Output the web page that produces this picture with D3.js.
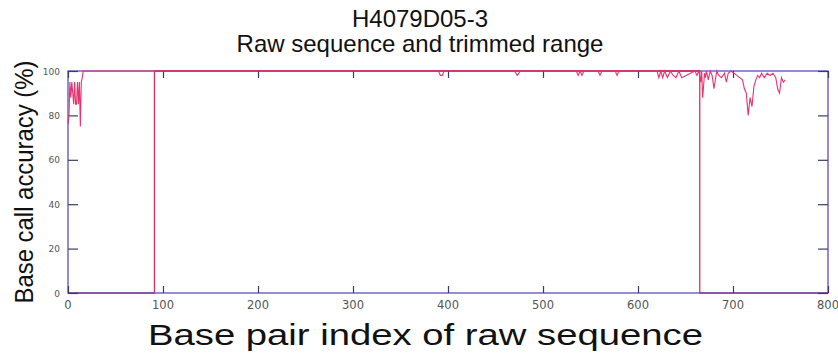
<!DOCTYPE html>
<html><head><meta charset="utf-8">
<script src="https://cdn.jsdelivr.net/npm/d3@7"></script>
<style>body{margin:0;background:#fff}svg{display:block}</style>
</head><body>
<script>
const titleLines = ["H4079D05-3", "Raw sequence and trimmed range"];
const xLabel = "Base pair index of raw sequence";
const yLabel = "Base call accuracy (%)";
const xTicks = [0,100,200,300,400,500,600,700,800];
const yTicks = [0,20,40,60,80,100];
// quality trace: base pair index, accuracy %
const qualBp  = [0,1,2,3,4,5,6,7,8,9,10,11,12,13,14,15,16,17,390,392,394,396,470,473,476,535,537,539,541,543,558,560,562,576,578,580,620,622,624,626,628,631,634,637,640,643,646,660,662,664,666,667,668,669,670,671,672,674,676,678,680,681,683,685,688,691,693,695,698,701,704,707,710,712,714,716,718,720,722,724,726,728,730,733,736,739,742,745,747,749,751,753,755];
const qualVal = [76,80,95,88,95,90,85,95,85,85,95,85,95,75,95,97,100,100,100,98,98,100,100,98,100,100,98,100,98,100,100,98,100,100,98,100,100,97,100,97,100,97,100,98,97,100,97,100,98,100,95,100,88,93,99,97,100,96,100,98,92,95,100,98,97,99,95,99,100,99,98,97,96,92,90,80,88,84,93,96,98,97,99,97,99,98,99,97,92,90,97,95,96];
// trimmed range (step): base pair index, level %
const trimBp  = [0,91,91,665,665,800];
const trimVal = [0,0,100,100,0,0];

const W = 838, H = 356;
const m = {l:68, r:828, t:71, b:293};
const x = d3.scaleLinear().domain([0,800]).range([m.l, m.r]);
const y = d3.scaleLinear().domain([0,100]).range([m.b, m.t]);
const frameC = "#5b4fc4", lineC = "#e8336f", trimC = "#e0305a";
const sans = "Liberation Sans, Arial, sans-serif";

const svg = d3.select("body").append("svg").attr("width", W).attr("height", H);

svg.append("g").selectAll("text").data(titleLines).join("text")
  .attr("x", 420).attr("y", (d,i)=>27 + i*25).attr("text-anchor","middle")
  .attr("font-family",sans).attr("font-size",24).attr("fill","#111")
  .text(d=>d);

// trimmed range
const trim = trimBp.map((b,i)=>[b, trimVal[i]]);
svg.append("path").datum(trim)
  .attr("d", d3.line().x(d=>x(d[0])).y(d=>y(d[1])))
  .attr("fill","none").attr("stroke",trimC).attr("stroke-width",1.3);

// frame
svg.append("rect").attr("x",m.l).attr("y",m.t).attr("width",m.r-m.l).attr("height",m.b-m.t)
  .attr("fill","none").attr("stroke",frameC).attr("stroke-width",1.3);
svg.append("line").attr("x1",x(91)).attr("x2",x(665)).attr("y1",y(100)).attr("y2",y(100))
  .attr("stroke",trimC).attr("stroke-width",1.3);

// axes with inward ticks
const tickStyle = g => { g.select(".domain").remove(); g.selectAll(".tick line").attr("stroke","#3a3a6a").attr("stroke-width",1.2); g.selectAll(".tick text").remove(); };
svg.append("g").attr("transform",`translate(0,${m.b})`).call(d3.axisTop(x).tickValues(xTicks).tickSize(7)).call(tickStyle);
svg.append("g").attr("transform",`translate(0,${m.t})`).call(d3.axisBottom(x).tickValues(xTicks).tickSize(7)).call(tickStyle);
svg.append("g").attr("transform",`translate(${m.l},0)`).call(d3.axisRight(y).tickValues(yTicks).tickSize(10)).call(tickStyle);
svg.append("g").attr("transform",`translate(${m.r},0)`).call(d3.axisLeft(y).tickValues(yTicks).tickSize(10)).call(tickStyle);

// quality line
const qual = qualBp.map((b,i)=>[b, qualVal[i]]);
svg.append("path").datum(qual)
  .attr("d", d3.line().x(d=>x(d[0])).y(d=>y(d[1])))
  .attr("fill","none").attr("stroke",lineC).attr("stroke-width",1.1);

// tick labels
svg.append("g").selectAll("text").data(xTicks).join("text")
  .attr("x", d=>x(d)).attr("y", m.b+16).attr("text-anchor","middle")
  .attr("font-family","DejaVu Sans, sans-serif").attr("font-size",11.5).attr("fill","#555").text(d=>d);
svg.append("g").selectAll("text").data(yTicks).join("text")
  .attr("x", 60).attr("y", d=>y(d)+3.5).attr("text-anchor","end")
  .attr("font-family","DejaVu Sans, sans-serif").attr("font-size",9).attr("fill","#555").text(d=>d);

svg.append("text").attr("x",425.5).attr("y",345).attr("text-anchor","middle")
  .attr("font-family",sans).attr("font-size",29).attr("fill","#111")
  .attr("textLength",555).attr("lengthAdjust","spacingAndGlyphs").text(xLabel);
svg.append("text").attr("transform",`translate(33,${(m.t+m.b)/2}) rotate(-90)`).attr("text-anchor","middle")
  .attr("font-family",sans).attr("font-size",26).attr("fill","#111")
  .attr("textLength",243).attr("lengthAdjust","spacingAndGlyphs").text(yLabel);
</script>
</body></html>
